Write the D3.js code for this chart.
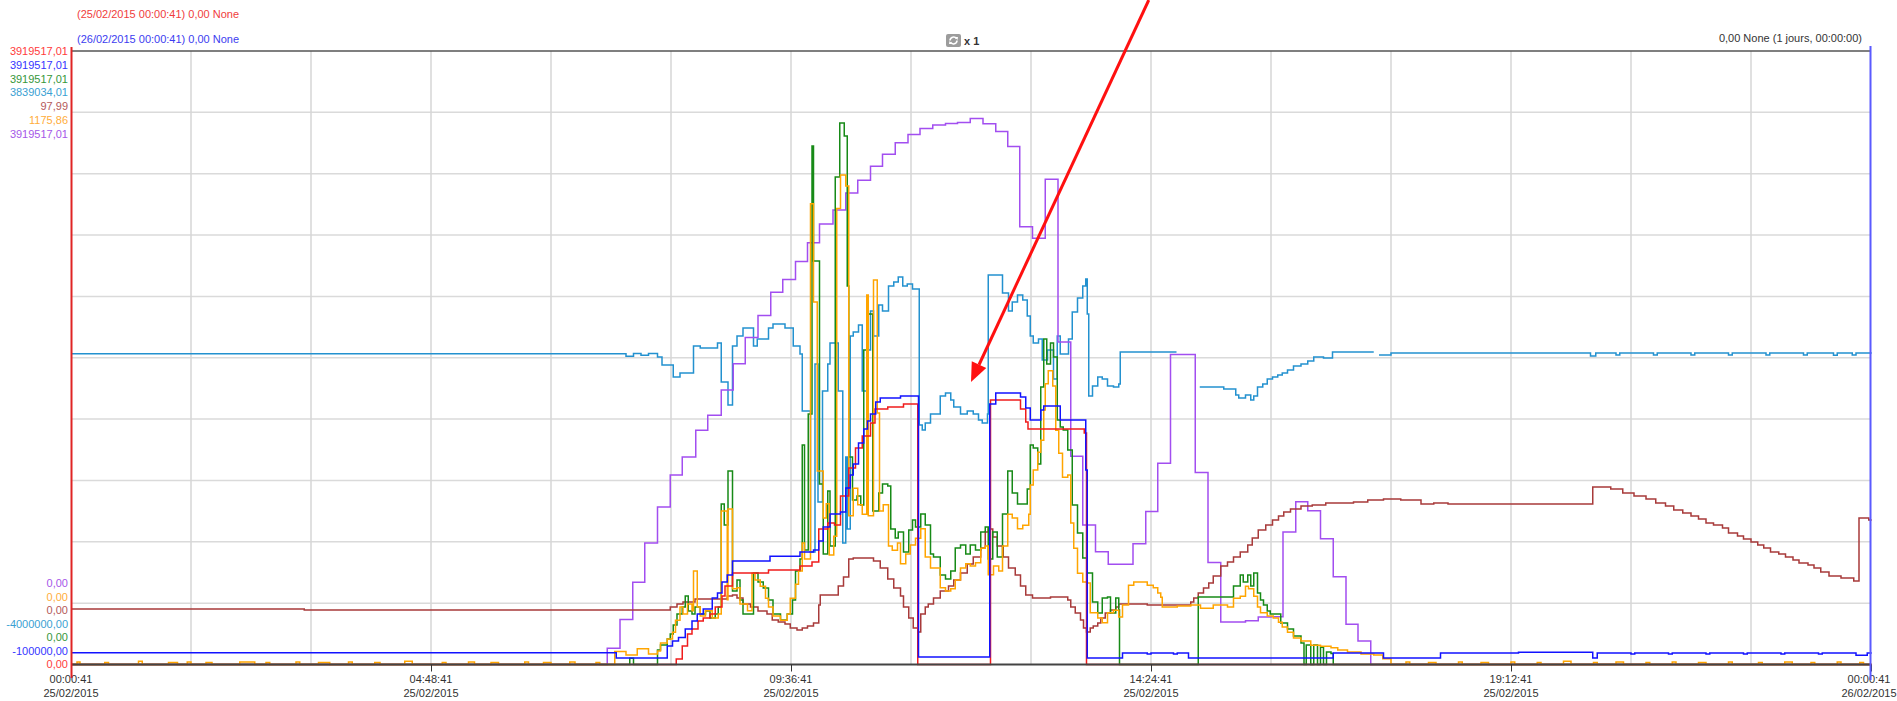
<!DOCTYPE html>
<html>
<head>
<meta charset="utf-8">
<script src="https://cdn.jsdelivr.net/npm/d3@7"></script>
<style>
  body { margin: 0; background: #fff; }
  svg { display: block; font-family: "Liberation Sans", Arial, sans-serif; }
</style>
</head>
<body>
<div id="chart"></div>
<script>
// time axis: hours since 25/02/2015 00:00:41
const START = new Date(2015, 1, 25, 0, 0, 41);
const tickHours = [0, 4.8, 9.6, 14.4, 19.2, 24];

// left axis labels (top = max, bottom = min), one per series
const topLabels = ["3919517,01", "3919517,01", "3919517,01", "3839034,01", "97,99", "1175,86", "3919517,01"];
const topLabelSeries = ["red", "blue", "green", "lightBlue", "brown", "orange", "purple"];
const bottomLabels = ["0,00", "0,00", "0,00", "-4000000,00", "0,00", "-100000,00", "0,00"];
const bottomLabelSeries = ["purple", "orange", "brown", "lightBlue", "green", "blue", "red"];

// [hour, value]
const redData = [[0,0],[8.07,35000],[8.15,118000],[8.22,195000],[8.28,227000],[8.36,278000],[8.43,297000],[8.52,323000],[8.59,367000],[8.68,438000],[8.72,502000],[8.82,585000],[9.30,604000],[9.72,630000],[9.88,655000],[9.97,866000],[10.09,904000],[10.18,891000],[10.26,1077000],[10.37,1255000],[10.46,1383000],[10.55,1460000],[10.66,1543000],[10.72,1632000],[10.89,1645000],[11.10,1664000],[11.29,0],[12.26,1690000],[12.66,1632000],[12.73,1549000],[12.76,1505000],[13.51,1479000],[13.54,0],[24.01,0]];

const blueData = [[0,-23000],[7.27,-57000],[7.95,21000],[8.02,54000],[8.10,77000],[8.19,133000],[8.28,185000],[8.35,231000],[8.43,264000],[8.55,336000],[8.62,368000],[8.68,441000],[8.75,486000],[8.82,578000],[9.32,610000],[9.72,637000],[9.90,650000],[9.97,709000],[10.03,801000],[10.12,886000],[10.26,899000],[10.33,1056000],[10.39,1142000],[10.43,1214000],[10.50,1351000],[10.57,1443000],[10.62,1495000],[10.66,1541000],[10.73,1620000],[10.79,1646000],[11.06,1659000],[11.30,-51000],[12.25,1607000],[12.33,1679000],[12.66,1653000],[12.73,1581000],[12.79,1502000],[12.93,1567000],[12.97,1594000],[13.19,1502000],[13.53,1174000],[13.55,-57000],[14.02,-25000],[14.35,-32000],[14.40,-25000],[14.70,-32000],[14.75,-25000],[14.90,-57000],[16.83,-25000],[17.50,-57000],[18.26,-25000],[19.30,-20000],[20.29,-57000],[20.35,-25000],[20.80,-32000],[20.85,-25000],[21.30,-32000],[21.35,-25000],[21.80,-32000],[21.85,-25000],[22.30,-32000],[22.35,-25000],[22.80,-32000],[22.85,-25000],[23.30,-32000],[23.35,-25000],[23.80,-40000],[23.95,-25000],[24.01,-25000]];

const greenData = [[0,0],[7.45,40000],[7.50,0],[7.82,93000],[7.86,125000],[7.95,163000],[7.99,195000],[8.03,252000],[8.08,323000],[8.15,367000],[8.19,438000],[8.23,342000],[8.28,323000],[8.32,367000],[8.39,323000],[8.46,342000],[8.52,297000],[8.59,323000],[8.63,367000],[8.67,1025000],[8.71,891000],[8.76,1236000],[8.82,470000],[8.88,540000],[8.92,412000],[8.96,323000],[9.10,585000],[9.16,527000],[9.23,489000],[9.30,412000],[9.36,323000],[9.46,284000],[9.55,323000],[9.62,412000],[9.66,597000],[9.72,674000],[9.75,1402000],[9.78,732000],[9.83,1600000],[9.88,3313000],[9.90,2578000],[9.98,1153000],[10.03,706000],[10.09,1108000],[10.12,757000],[10.19,3115000],[10.25,3460000],[10.31,3377000],[10.35,2418000],[10.37,1326000],[10.42,1051000],[10.48,1077000],[10.53,1019000],[10.57,2009000],[10.62,1096000],[10.63,2239000],[10.69,981000],[10.77,1096000],[10.82,1153000],[10.89,1140000],[10.93,866000],[10.99,808000],[11.03,847000],[11.10,719000],[11.17,859000],[11.22,923000],[11.26,879000],[11.33,962000],[11.39,891000],[11.46,706000],[11.50,687000],[11.59,572000],[11.66,546000],[11.73,597000],[11.79,744000],[11.86,764000],[11.93,706000],[11.99,764000],[12.06,732000],[12.13,847000],[12.19,879000],[12.23,674000],[12.29,847000],[12.35,687000],[12.42,962000],[12.49,1236000],[12.55,1096000],[12.62,1025000],[12.75,1121000],[12.79,1402000],[12.83,1383000],[12.89,1281000],[12.93,1773000],[12.97,2079000],[13.01,1920000],[13.06,2054000],[13.10,1965000],[13.15,1562000],[13.19,1517000],[13.23,1498000],[13.29,1370000],[13.35,1019000],[13.42,840000],[13.49,680000],[13.55,585000],[13.62,399000],[13.69,329000],[13.75,425000],[13.82,431000],[13.86,329000],[13.93,425000],[13.97,348000],[13.98,0],[15.03,431000],[15.50,502000],[15.59,572000],[15.63,527000],[15.69,572000],[15.73,502000],[15.77,585000],[15.82,457000],[15.86,412000],[15.90,380000],[15.95,342000],[15.99,323000],[16.13,265000],[16.22,227000],[16.30,182000],[16.40,137000],[16.44,0],[16.47,125000],[16.53,0],[16.57,125000],[16.62,0],[16.66,110000],[16.70,0],[16.74,80000],[16.80,70000],[16.83,0],[24.01,0]];

const lightBlueData = [[0,-30000],[7.24,-30000],[7.40,-60000],[7.50,-25000],[7.60,-50000],[7.70,-25000],[7.82,-71000],[7.88,-173000],[8.03,-326000],[8.12,-275000],[8.30,70000],[8.39,44000],[8.62,108000],[8.67,-390000],[8.76,-684000],[8.82,70000],[8.88,198000],[8.96,300000],[9.10,70000],[9.15,159000],[9.30,300000],[9.36,351000],[9.52,300000],[9.63,70000],[9.72,-32000],[9.75,-761000],[9.86,-2562000],[9.92,-160000],[9.96,-1924000],[10.02,-505000],[10.09,-160000],[10.12,108000],[10.23,-505000],[10.29,-2447000],[10.33,-1349000],[10.35,-2269000],[10.39,198000],[10.43,249000],[10.50,338000],[10.55,-505000],[10.61,19000],[10.66,517000],[10.70,198000],[10.77,594000],[10.82,517000],[10.90,836000],[10.97,888000],[11.03,951000],[11.09,836000],[11.15,862000],[11.22,798000],[11.31,-940000],[11.35,-1004000],[11.39,-914000],[11.46,-799000],[11.59,-569000],[11.66,-531000],[11.73,-620000],[11.77,-710000],[11.86,-799000],[11.95,-761000],[12.03,-799000],[12.10,-876000],[12.15,-914000],[12.22,-799000],[12.23,977000],[12.42,747000],[12.50,517000],[12.55,632000],[12.62,721000],[12.69,658000],[12.75,453000],[12.79,198000],[12.83,108000],[12.90,159000],[12.95,-109000],[13.02,19000],[13.10,-352000],[13.15,198000],[13.19,-32000],[13.30,159000],[13.35,504000],[13.42,683000],[13.49,836000],[13.53,926000],[13.55,479000],[13.57,-569000],[13.62,-441000],[13.69,-326000],[13.75,-352000],[13.82,-441000],[13.90,-454000],[13.97,-416000],[13.99,-7000],[14.74,-7000],[14.74,null],[15.05,-454000],[15.37,-480000],[15.53,-556000],[15.57,-595000],[15.66,-556000],[15.73,-620000],[15.77,-569000],[15.82,-454000],[15.89,-416000],[15.95,-352000],[16.02,-326000],[16.09,-301000],[16.15,-275000],[16.22,-237000],[16.30,-186000],[16.40,-160000],[16.49,-122000],[16.57,-71000],[16.70,-84000],[16.82,-7000],[17.37,-7000],[17.37,null],[17.44,-45000],[17.60,-20000],[19.50,-20000],[20.26,-58000],[20.33,-20000],[20.60,-45000],[20.65,-20000],[21.10,-45000],[21.15,-20000],[21.60,-45000],[21.65,-20000],[22.10,-45000],[22.15,-20000],[22.60,-45000],[22.65,-20000],[23.10,-45000],[23.15,-20000],[23.50,-50000],[23.55,-20000],[23.75,-45000],[23.80,-20000],[24.01,-20000]];

const brownData = [[0,8.86],[3.11,8.70],[7.99,9.18],[8.08,9.66],[8.16,9.98],[8.32,10.46],[8.75,10.94],[8.82,11.10],[8.88,10.62],[8.96,9.66],[9.06,9.18],[9.16,8.54],[9.28,8.07],[9.35,7.11],[9.43,6.79],[9.52,6.47],[9.59,5.83],[9.68,5.51],[9.75,5.83],[9.82,6.15],[9.90,6.63],[9.97,9.50],[9.99,11.10],[10.23,12.54],[10.30,13.98],[10.37,16.85],[10.43,17.01],[10.70,16.53],[10.79,15.41],[10.89,13.66],[10.97,12.22],[11.06,10.94],[11.10,9.18],[11.17,7.43],[11.23,5.83],[11.29,5.19],[11.33,8.07],[11.39,9.18],[11.43,9.66],[11.50,10.62],[11.59,11.74],[11.70,12.54],[11.77,13.50],[11.86,14.61],[11.95,16.05],[12.03,17.17],[12.13,18.61],[12.19,21.16],[12.23,21.64],[12.29,20.37],[12.35,18.93],[12.43,17.17],[12.50,15.41],[12.59,14.29],[12.66,12.54],[12.73,11.10],[12.82,10.62],[13.06,10.78],[13.29,10.30],[13.33,9.18],[13.39,8.23],[13.46,7.11],[13.50,5.83],[13.54,5.19],[13.59,5.83],[13.63,6.15],[13.69,6.63],[13.73,7.43],[13.79,8.23],[13.86,8.70],[13.93,9.18],[13.97,9.66],[14.35,9.50],[14.93,9.98],[14.97,10.62],[15.03,11.42],[15.10,12.22],[15.17,13.02],[15.23,14.13],[15.33,15.73],[15.42,16.37],[15.50,17.17],[15.59,17.97],[15.69,19.09],[15.75,20.21],[15.83,21.48],[15.93,22.28],[16.02,23.08],[16.10,23.72],[16.17,24.36],[16.26,24.84],[16.40,25.32],[16.55,25.48],[16.73,25.79],[17.10,25.95],[17.29,26.27],[17.50,26.43],[17.73,26.27],[18.00,25.63],[18.17,25.79],[18.36,25.63],[20.29,28.35],[20.53,28.03],[20.69,27.39],[20.84,26.91],[21.00,26.43],[21.13,25.79],[21.26,25.32],[21.37,24.68],[21.49,24.20],[21.60,23.72],[21.70,23.24],[21.80,22.60],[21.90,22.28],[22.02,21.80],[22.10,21.00],[22.22,20.52],[22.30,20.04],[22.40,19.57],[22.49,19.09],[22.57,18.61],[22.66,17.97],[22.77,17.65],[22.86,17.17],[22.96,16.69],[23.04,16.21],[23.16,15.89],[23.24,15.41],[23.33,14.77],[23.44,14.13],[23.60,13.82],[23.77,13.34],[23.84,23.40],[23.97,23.08],[24.01,23.08]];

const orangeData = [[0,0],[0.08,5],[0.12,0],[0.45,4],[0.50,0],[0.90,6],[0.95,0],[1.30,4],[1.42,0],[1.55,5],[1.60,0],[1.80,4],[1.88,0],[2.25,5],[2.45,0],[2.60,4],[2.65,0],[3.00,5],[3.05,0],[3.30,4],[3.45,0],[3.70,5],[3.75,0],[4.05,4],[4.12,0],[4.45,6],[4.55,0],[4.95,4],[5.00,0],[5.30,5],[5.38,0],[5.60,4],[5.70,0],[6.05,5],[6.10,0],[6.30,4],[6.40,0],[6.65,5],[6.72,0],[7.00,4],[7.05,0],[7.25,25],[7.40,18],[7.55,30],[7.70,20],[7.82,26],[7.86,41],[7.95,49],[8.02,62],[8.06,85],[8.12,110],[8.16,97],[8.22,116],[8.28,103],[8.30,179],[8.35,110],[8.39,93],[8.46,103],[8.55,89],[8.63,97],[8.67,294],[8.75,124],[8.76,298],[8.82,145],[8.88,147],[8.92,116],[9.02,103],[9.08,175],[9.12,162],[9.19,150],[9.26,127],[9.30,110],[9.36,93],[9.46,85],[9.55,97],[9.59,127],[9.66,154],[9.70,179],[9.75,233],[9.78,202],[9.86,883],[9.90,695],[9.95,371],[10.03,281],[10.07,308],[10.11,210],[10.17,246],[10.21,874],[10.26,938],[10.33,917],[10.37,285],[10.43,338],[10.49,306],[10.55,288],[10.61,708],[10.63,285],[10.70,737],[10.75,482],[10.78,294],[10.83,306],[10.90,227],[10.95,219],[11.02,233],[11.06,193],[11.13,212],[11.19,229],[11.26,242],[11.33,260],[11.39,206],[11.46,185],[11.59,147],[11.66,141],[11.73,145],[11.79,162],[11.86,185],[11.93,193],[11.99,189],[12.06,195],[12.13,223],[12.19,227],[12.23,172],[12.30,189],[12.37,179],[12.42,227],[12.49,288],[12.55,281],[12.62,260],[12.69,267],[12.77,288],[12.79,344],[12.83,373],[12.89,407],[12.93,430],[12.97,488],[12.99,538],[13.03,563],[13.09,534],[13.13,449],[13.17,405],[13.22,359],[13.29,363],[13.33,271],[13.37,223],[13.42,175],[13.49,158],[13.55,156],[13.59,99],[13.69,89],[13.75,80],[13.82,99],[13.90,104],[13.97,91],[14.02,114],[14.10,152],[14.17,158],[14.35,152],[14.43,147],[14.49,137],[14.53,129],[14.55,110],[14.75,112],[14.93,114],[15.06,108],[15.23,114],[15.42,110],[15.50,127],[15.59,131],[15.66,150],[15.70,145],[15.77,131],[15.82,110],[15.86,99],[15.95,93],[16.03,89],[16.10,81],[16.15,72],[16.22,62],[16.30,51],[16.40,45],[16.53,37],[16.66,35],[16.80,32],[16.89,28],[17.02,24],[17.20,20],[17.37,18],[17.49,11],[17.60,0],[17.80,5],[17.85,0],[18.10,4],[18.20,0],[18.50,5],[18.55,0],[18.80,4],[18.90,0],[19.20,5],[19.25,0],[19.55,4],[19.60,0],[19.90,6],[20.00,0],[20.30,4],[20.35,0],[20.60,5],[20.70,0],[21.00,4],[21.05,0],[21.35,5],[21.40,0],[21.70,4],[21.80,0],[22.10,5],[22.15,0],[22.50,4],[22.55,0],[22.85,5],[22.95,0],[23.20,4],[23.25,0],[23.55,5],[23.60,0],[23.85,4],[23.90,0],[24.01,0]];

const purpleData = [[0,0],[7.15,104000],[7.32,287000],[7.49,526000],[7.65,777000],[7.82,1006000],[7.99,1211000],[8.15,1325000],[8.33,1496000],[8.49,1592000],[8.67,1754000],[8.83,1922000],[8.99,2089000],[9.16,2230000],[9.33,2379000],[9.49,2459000],[9.66,2575000],[9.82,2694000],[9.98,2815000],[10.16,2904000],[10.33,3013000],[10.49,3093000],[10.66,3184000],[10.82,3260000],[10.99,3333000],[11.16,3386000],[11.32,3424000],[11.49,3447000],[11.66,3456000],[11.82,3463000],[11.99,3488000],[12.16,3454000],[12.33,3406000],[12.49,3310000],[12.65,2796000],[12.82,2724000],[12.99,3100000],[13.16,2060000],[13.33,1330000],[13.49,891000],[13.66,720000],[13.83,640000],[14.16,771000],[14.33,978000],[14.49,1286000],[14.66,1980000],[14.99,1227000],[15.16,652000],[15.33,271000],[15.66,280000],[15.83,303000],[16.00,305000],[16.16,846000],[16.33,1039000],[16.49,983000],[16.66,804000],[16.83,560000],[17.00,257000],[17.16,150000],[17.33,0],[24.01,0]];

// annotation arrow, in hours / red-series units
const arrowTail = [14.37, 4245000];
const arrowTip = [12.0, 1805000];

const width = 1897, height = 701;
const plotLeft = 71, plotRight = 1871, plotTop = 51, plotBottom = 664.5;

const colors = {
    red: "#f01c1c", blue: "#1212ff", green: "#178a17", lightBlue: "#2391cf",
    brown: "#a83a3a", orange: "#ffa500", purple: "#a24ef0"
};
const labelColors = {
    red: "#ff3b3b", blue: "#3535ff", green: "#36973a", lightBlue: "#3a9fd3",
    brown: "#b45a5a", orange: "#ffad3a", purple: "#a558e8"
};

// drawing order, bottom to top
const series = [
    { key: "lightBlue", data: lightBlueData, min: -4000000, max: 3839034.01 },
    { key: "purple", data: purpleData, min: 0, max: 3919517.01 },
    { key: "brown", data: brownData, min: 0, max: 97.99 },
    { key: "green", data: greenData, min: 0, max: 3919517.01 },
    { key: "orange", data: orangeData, min: 0, max: 1175.86 },
    { key: "red", data: redData, min: 0, max: 3919517.01 },
    { key: "blue", data: blueData, min: -100000, max: 3919517.01 }
];

const toDate = h => new Date(START.getTime() + h * 3600e3);

const svg = d3.select("#chart").append("svg")
    .attr("width", width)
    .attr("height", height);

const x = d3.scaleTime()
    .domain([toDate(0), toDate(24)])
    .range([plotLeft, plotRight]);

// grid
const gridY = d3.scaleLinear().domain([0, 10]).range([plotBottom, plotTop]);
svg.append("g").selectAll("line")
    .data(d3.range(1, 10))
    .join("line")
    .attr("x1", plotLeft).attr("x2", plotRight)
    .attr("y1", d => gridY(d)).attr("y2", d => gridY(d))
    .attr("stroke", "#dadada").attr("stroke-width", 1.5);
svg.append("g").selectAll("line")
    .data(d3.range(1, 15).map(i => i * 1.6))
    .join("line")
    .attr("x1", d => x(toDate(d))).attr("x2", d => x(toDate(d)))
    .attr("y1", plotTop).attr("y2", plotBottom)
    .attr("stroke", "#d6d6d6").attr("stroke-width", 1.5);

// series
const yScales = {};
series.forEach(s => {
    const y = d3.scaleLinear().domain([s.min, s.max]).range([plotBottom, plotTop]);
    yScales[s.key] = y;
    svg.append("path")
        .datum(s.data)
        .attr("fill", "none")
        .attr("stroke", colors[s.key])
        .attr("stroke-width", 1.5)
        .attr("d", d3.line()
            .defined(d => d[1] !== null)
            .x(d => x(toDate(d[0])))
            .y(d => y(d[1]))
            .curve(d3.curveStepAfter));
});

// frame
svg.append("line").attr("x1", plotLeft).attr("x2", plotRight)
    .attr("y1", plotTop).attr("y2", plotTop)
    .attr("stroke", "#555").attr("stroke-width", 1.5);
svg.append("line").attr("x1", plotLeft).attr("x2", plotRight)
    .attr("y1", plotBottom).attr("y2", plotBottom)
    .attr("stroke", "#444").attr("stroke-width", 2);

// x axis ticks + two line labels
svg.append("g")
    .attr("transform", `translate(0,${plotBottom})`)
    .call(d3.axisBottom(x).tickValues(tickHours.map(toDate)).tickSize(7).tickFormat(""))
    .call(g => g.select(".domain").remove())
    .call(g => g.selectAll(".tick line").attr("stroke", "#333"));

const fmtTime = d3.timeFormat("%H:%M:%S"), fmtDay = d3.timeFormat("%d/%m/%Y");
// last label is pulled in so it stays inside the page
const labelX = d => Math.min(x(d), width - 28);
const tickLabels = svg.append("g").selectAll("text")
    .data(tickHours.map(toDate))
    .join("text")
    .attr("text-anchor", "middle")
    .attr("font-size", 11)
    .attr("fill", "#333");
tickLabels.append("tspan").attr("x", d => labelX(d)).attr("y", 683).text(d => fmtTime(d));
tickLabels.append("tspan").attr("x", d => labelX(d)).attr("y", 697).text(d => fmtDay(d));

// side axis lines
svg.append("line").attr("x1", 71.5).attr("x2", 71.5).attr("y1", 47).attr("y2", 678)
    .attr("stroke", "#e02424").attr("stroke-width", 2);
svg.append("line").attr("x1", 1870.5).attr("x2", 1870.5).attr("y1", 46).attr("y2", 680)
    .attr("stroke", "#5a5aff").attr("stroke-width", 2);

// stacked min / max labels
svg.append("g").selectAll("text")
    .data(topLabels)
    .join("text")
    .attr("x", 68)
    .attr("y", (d, i) => 55 + i * 13.8)
    .attr("text-anchor", "end")
    .attr("font-size", 11)
    .attr("fill", (d, i) => labelColors[topLabelSeries[i]])
    .text(d => d);
svg.append("g").selectAll("text")
    .data(bottomLabels)
    .join("text")
    .attr("x", 68)
    .attr("y", (d, i) => 587 + i * 13.5)
    .attr("text-anchor", "end")
    .attr("font-size", 11)
    .attr("fill", (d, i) => labelColors[bottomLabelSeries[i]])
    .text(d => d);

// header texts
svg.append("text").attr("x", 77).attr("y", 18).attr("font-size", 11)
    .attr("fill", "#f03c3c").text("(25/02/2015 00:00:41) 0,00 None");
svg.append("text").attr("x", 77).attr("y", 43).attr("font-size", 11)
    .attr("fill", "#3c3cf0").text("(26/02/2015 00:00:41) 0,00 None");
svg.append("text").attr("x", 1862).attr("y", 42).attr("font-size", 11)
    .attr("text-anchor", "end").attr("fill", "#333")
    .text("0,00 None (1 jours, 00:00:00)");

// refresh icon + zoom factor
const icon = svg.append("g").attr("transform", "translate(946,34)");
icon.append("rect").attr("width", 15).attr("height", 13).attr("rx", 2).attr("fill", "#9c9c9c");
icon.append("path").attr("d", "M4,6.5 A3.5,3.5 0 0 1 10.5,4.8").attr("fill", "none")
    .attr("stroke", "#fff").attr("stroke-width", 1.6);
icon.append("path").attr("d", "M11,6.5 A3.5,3.5 0 0 1 4.5,8.2").attr("fill", "none")
    .attr("stroke", "#fff").attr("stroke-width", 1.6);
icon.append("path").attr("d", "M9,3 L12,3 L11.5,6 Z").attr("fill", "#fff");
icon.append("path").attr("d", "M6,10 L3,10 L3.5,7 Z").attr("fill", "#fff");
svg.append("text").attr("x", 964).attr("y", 45).attr("font-size", 11)
    .attr("font-weight", "bold").attr("fill", "#333").text("x 1");

// red annotation arrow
const yRed = yScales.red;
const tail = [x(toDate(arrowTail[0])), yRed(arrowTail[1])];
const tip = [x(toDate(arrowTip[0])), yRed(arrowTip[1])];
const ang = Math.atan2(tip[1] - tail[1], tip[0] - tail[0]);
const headLen = 19, headW = 8;
const base = [tip[0] - headLen * Math.cos(ang), tip[1] - headLen * Math.sin(ang)];
svg.append("line")
    .attr("x1", tail[0]).attr("y1", tail[1])
    .attr("x2", base[0]).attr("y2", base[1])
    .attr("stroke", "#ff1010").attr("stroke-width", 3);
svg.append("path")
    .attr("d", `M${tip[0]},${tip[1]} L${base[0] - headW * Math.sin(ang)},${base[1] + headW * Math.cos(ang)} L${base[0] + headW * Math.sin(ang)},${base[1] - headW * Math.cos(ang)} Z`)
    .attr("fill", "#ff1010");
</script>
</body>
</html>
